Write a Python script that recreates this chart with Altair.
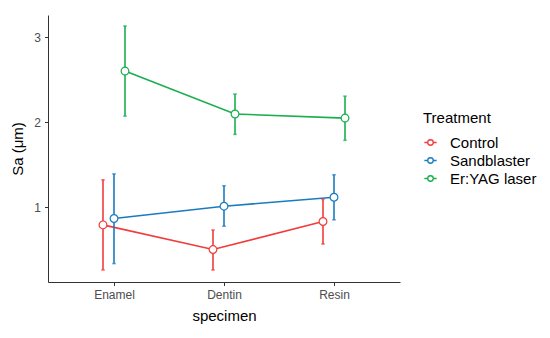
import altair as alt
import pandas as pd

specimens = ["Enamel", "Dentin", "Resin"]
treatments = ["Control", "Sandblaster", "Er:YAG laser"]
colors = ["#F23B3B", "#1A7BBF", "#19AE4E"]

control_mean = [0.79, 0.50, 0.83]
control_lo = [0.26, 0.26, 0.565]
control_hi = [1.32, 0.73, 1.09]

sand_mean = [0.865, 1.01, 1.115]
sand_lo = [0.335, 0.775, 0.85]
sand_hi = [1.39, 1.25, 1.38]

laser_mean = [2.60, 2.095, 2.047]
laser_lo = [2.07, 1.855, 1.785]
laser_hi = [3.13, 2.33, 2.305]

rows = []
for t, m, lo, hi in [
    ("Control", control_mean, control_lo, control_hi),
    ("Sandblaster", sand_mean, sand_lo, sand_hi),
    ("Er:YAG laser", laser_mean, laser_lo, laser_hi),
]:
    for s, a, b, c in zip(specimens, m, lo, hi):
        rows.append({"specimen": s, "Treatment": t, "Sa": a, "lo": b, "hi": c})
df = pd.DataFrame(rows)

FONT = "Liberation Sans"

x = alt.X("specimen:O", sort=specimens, scale=alt.Scale(type="point", padding=0.6),
          axis=alt.Axis(title="specimen", labelAngle=0, titleFontSize=15,
                        titleFontWeight="normal", titleColor="#000000",
                        labelFontSize=12, labelColor="#4d4d4d", labelPadding=4,
                        tickSize=3.5, tickColor="#333333", domainColor="#333333",
                        tickWidth=1, domainWidth=1, titlePadding=8, grid=False))
xoff = alt.XOffset("Treatment:N", sort=treatments,
                   scale=alt.Scale(type="point", domain=treatments, range=[-11, 11], padding=0))
yscale = alt.Scale(domain=[0.118, 3.26], nice=False, zero=False)
y = alt.Y("Sa:Q", scale=yscale,
          axis=alt.Axis(title="Sa (μm)", values=[1, 2, 3], format="d", titleFontSize=15,
                        titleFontWeight="normal", titleColor="#000000",
                        labelFontSize=12, labelColor="#4d4d4d", labelPadding=4,
                        tickSize=3.5, tickColor="#333333", domainColor="#333333",
                        tickWidth=1, domainWidth=1, titlePadding=8, grid=False))
color = alt.Color("Treatment:N", sort=treatments,
                  scale=alt.Scale(domain=treatments, range=colors),
                  legend=alt.Legend(
                      title="Treatment", orient="none", legendX=375, legendY=96,
                      titleFontSize=15, titleFontWeight="normal", titleColor="#000000",
                      labelFontSize=15, labelColor="#000000", titlePadding=9,
                      symbolType="M-1,0L-0.45,0M0.45,0L1,0M0.45,0A0.45,0.45 0 1,1 -0.45,0A0.45,0.45 0 1,1 0.45,0Z",
                      symbolFillColor="white", symbolStrokeWidth=1.3, symbolSize=150,
                      symbolOpacity=1, rowPadding=2, labelOffset=12))
nolegend = alt.Color("Treatment:N", sort=treatments,
                     scale=alt.Scale(domain=treatments, range=colors), legend=None)

base = alt.Chart(df)

lines = base.mark_line(strokeWidth=1.6).encode(x=x, xOffset=xoff, y=y, color=nolegend)
rules = base.mark_rule(strokeWidth=1.6).encode(
    x=x, xOffset=xoff, y=alt.Y("lo:Q", scale=yscale), y2="hi:Q", color=nolegend)
caps_lo = base.mark_tick(thickness=1.6, size=3.5, orient="horizontal").encode(
    x=x, xOffset=xoff, y=alt.Y("lo:Q", scale=yscale), color=nolegend)
caps_hi = base.mark_tick(thickness=1.6, size=3.5, orient="horizontal").encode(
    x=x, xOffset=xoff, y=alt.Y("hi:Q", scale=yscale), color=nolegend)
points = base.mark_point(filled=False, fill="white", fillOpacity=1, size=60, strokeWidth=1.2,
                         opacity=1).encode(x=x, xOffset=xoff, y=y, color=color)

chart = alt.layer(lines, rules, caps_lo, caps_hi, points).resolve_scale(
    color="independent").resolve_legend(color="independent").properties(
    width=352, height=267,
    autosize=alt.AutoSizeParams(type="none"),
    padding={"left": 40, "top": 7, "right": 140, "bottom": 48},
).configure(font=FONT).configure_view(stroke=None).configure_axis(labelFont=FONT, titleFont=FONT)

chart.save("out.html", embed_options={"renderer": "svg", "actions": False})
